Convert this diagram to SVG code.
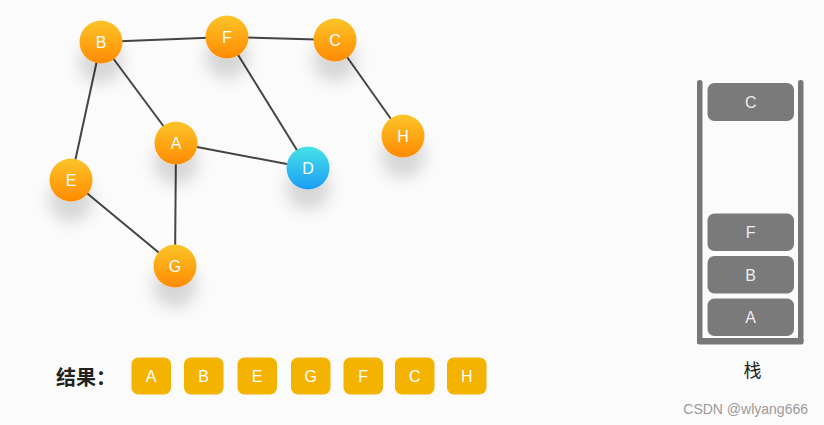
<svg xmlns="http://www.w3.org/2000/svg" width="824" height="425" viewBox="0 0 824 425">
<defs>
<linearGradient id="og" x1="0" y1="0" x2="0" y2="1">
<stop offset="0" stop-color="#FBC52A"/>
<stop offset="1" stop-color="#FF8A00"/>
</linearGradient>
<linearGradient id="bg" x1="0" y1="0" x2="0" y2="1">
<stop offset="0" stop-color="#45E3E6"/>
<stop offset="1" stop-color="#1C9CF6"/>
</linearGradient>
<filter id="sh" x="-80%" y="-60%" width="260%" height="280%">
<feDropShadow dx="0" dy="20" stdDeviation="8" flood-color="#000" flood-opacity="0.15"/>
</filter>
<style>
.edge{stroke:#444;stroke-width:2;fill:none}
.nd{filter:url(#sh)}
.nt{font-family:"Liberation Sans",Arial,sans-serif;font-size:16px;fill:#fff;text-anchor:middle;dominant-baseline:central}
.sb{fill:#7a7a7a}
.st{font-family:"Liberation Sans",Arial,sans-serif;font-size:16px;fill:#eee;text-anchor:middle;dominant-baseline:central}
.rb{fill:#F4B300}
.rt{font-family:"Liberation Sans",Arial,sans-serif;font-size:16px;fill:#fff;text-anchor:middle;dominant-baseline:central}
.wall{fill:#777}
</style>
</defs>
<rect width="824" height="425" fill="#fbfbfb"/>
<g id="connectors">
<line class="edge" x1="101" y1="42" x2="227" y2="37"/>
<line class="edge" x1="227" y1="37" x2="335" y2="40"/>
<line class="edge" x1="101" y1="42" x2="176" y2="143"/>
<line class="edge" x1="101" y1="42" x2="71" y2="180"/>
<line class="edge" x1="227" y1="37" x2="308" y2="168"/>
<line class="edge" x1="335" y1="40" x2="403" y2="136"/>
<line class="edge" x1="176" y1="143" x2="308" y2="168"/>
<line class="edge" x1="176" y1="143" x2="175" y2="266"/>
<line class="edge" x1="71" y1="180" x2="175" y2="266"/>
</g>
<g id="node-B"><circle class="nd" cx="101" cy="42" r="21.5" fill="url(#og)"/><text class="nt" x="101" y="42">B</text></g>
<g id="node-F"><circle class="nd" cx="227" cy="37" r="21.5" fill="url(#og)"/><text class="nt" x="227" y="37">F</text></g>
<g id="node-C"><circle class="nd" cx="335" cy="40" r="21.5" fill="url(#og)"/><text class="nt" x="335" y="40">C</text></g>
<g id="node-H"><circle class="nd" cx="403" cy="136" r="21.5" fill="url(#og)"/><text class="nt" x="403" y="136">H</text></g>
<g id="node-A"><circle class="nd" cx="176" cy="143" r="21.5" fill="url(#og)"/><text class="nt" x="176" y="143">A</text></g>
<g id="node-D"><circle class="nd" cx="308" cy="168" r="21.5" fill="url(#bg)"/><text class="nt" x="308" y="168">D</text></g>
<g id="node-E"><circle class="nd" cx="71" cy="180" r="21.5" fill="url(#og)"/><text class="nt" x="71" y="180">E</text></g>
<g id="node-G"><circle class="nd" cx="175" cy="266" r="21.5" fill="url(#og)"/><text class="nt" x="175" y="266">G</text></g>
<g id="stack">
<rect class="wall" x="697" y="80" width="5.5" height="264" rx="2.5"/>
<rect class="wall" x="798" y="80" width="5.5" height="264" rx="2.5"/>
<rect class="wall" x="697" y="338" width="106.5" height="6.5" rx="2.5"/>
<rect class="sb" x="707.5" y="83" width="86.5" height="38" rx="7"/><text class="st" x="750.7" y="102">C</text>
<rect class="sb" x="707.5" y="213.5" width="86.5" height="37.5" rx="7"/><text class="st" x="750.7" y="232.5">F</text>
<rect class="sb" x="707.5" y="256" width="86.5" height="37.5" rx="7"/><text class="st" x="750.7" y="275">B</text>
<rect class="sb" x="707.5" y="298.5" width="86.5" height="37.5" rx="7"/><text class="st" x="750.7" y="317.5">A</text>
<text x="752.5" y="377" font-family="'Noto Sans CJK SC',sans-serif" font-size="18" fill="#222" text-anchor="middle">栈</text>
</g>
<g id="result">
<text x="56" y="385" font-family="'Noto Sans CJK SC',sans-serif" font-size="20" font-weight="bold" fill="#222">结果：</text>
<rect class="rb" x="131.5" y="357.5" width="39.5" height="37" rx="7"/><text class="rt" x="151.2" y="376">A</text>
<rect class="rb" x="184" y="357.5" width="39.5" height="37" rx="7"/><text class="rt" x="203.7" y="376">B</text>
<rect class="rb" x="237.5" y="357.5" width="39.5" height="37" rx="7"/><text class="rt" x="257.2" y="376">E</text>
<rect class="rb" x="291" y="357.5" width="39.5" height="37" rx="7"/><text class="rt" x="310.7" y="376">G</text>
<rect class="rb" x="343.5" y="357.5" width="39.5" height="37" rx="7"/><text class="rt" x="363.2" y="376">F</text>
<rect class="rb" x="395" y="357.5" width="39.5" height="37" rx="7"/><text class="rt" x="414.7" y="376">C</text>
<rect class="rb" x="447" y="357.5" width="39.5" height="37" rx="7"/><text class="rt" x="466.7" y="376">H</text>
</g>
<text x="808" y="414" font-family="'Liberation Sans',Arial,sans-serif" font-size="14" fill="#9a9a9a" text-anchor="end">CSDN @wlyang666</text>
</svg>
